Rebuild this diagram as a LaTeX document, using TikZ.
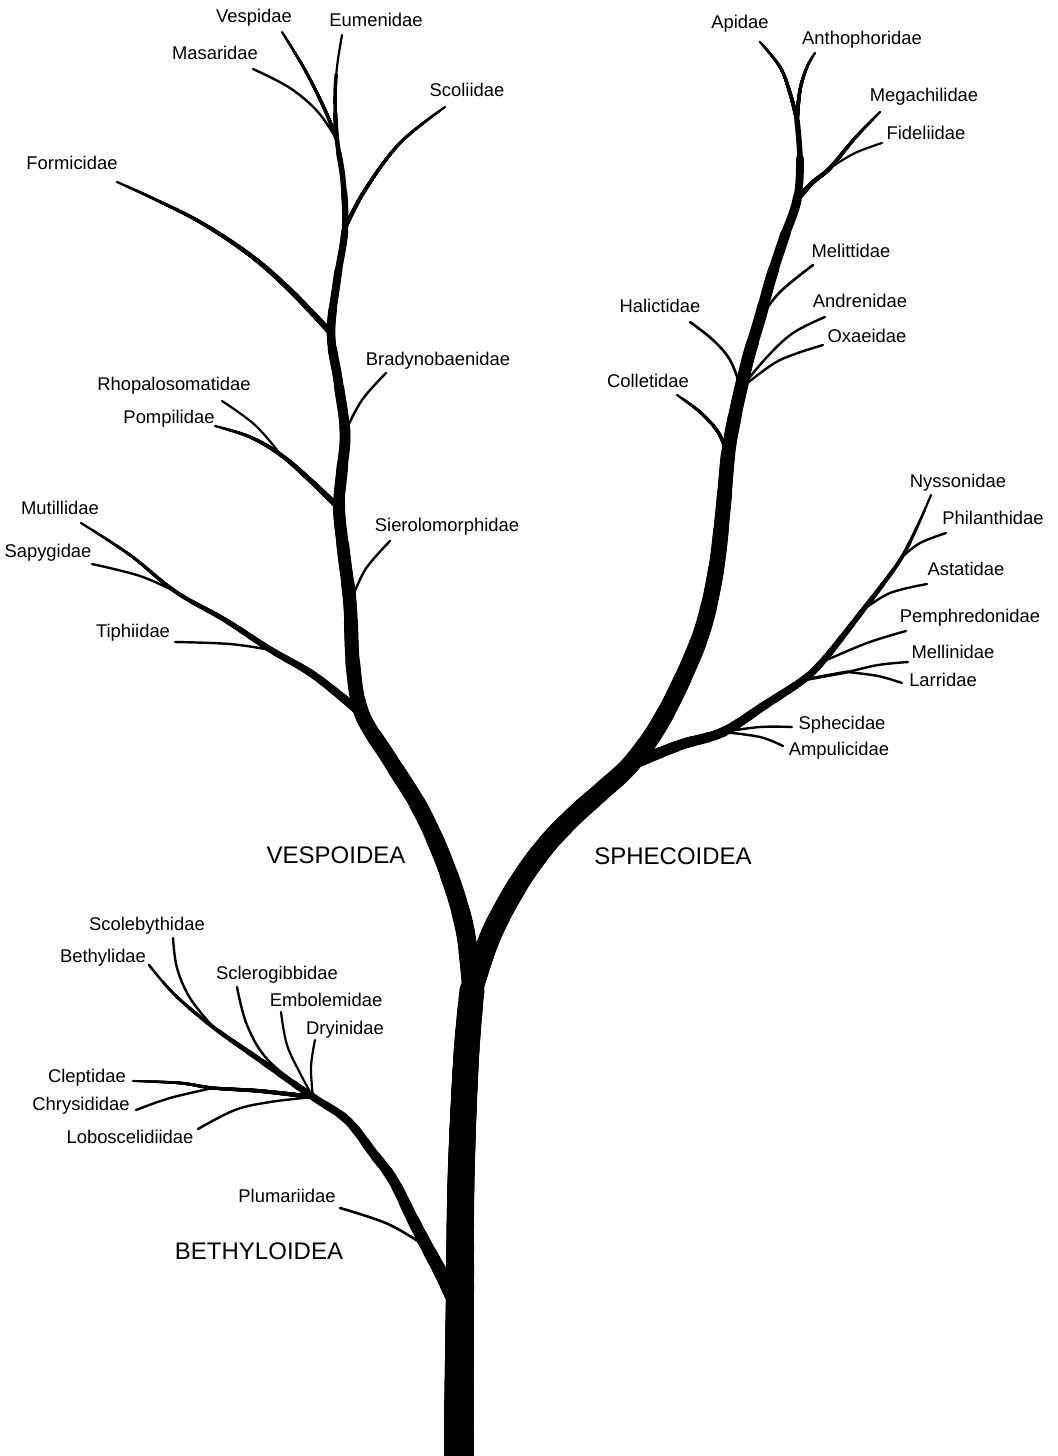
\documentclass[tikz,border=0pt]{standalone}
\usepackage{fontspec}
\setmainfont{Liberation Sans}
% #1 coordinates, #2 arc length (px), #3 base width (px), #4 tip width (px), #5 taper exponent
\newcommand\taper[5]{%
  \pgfmathsetmacro\tipw{0.5*#4}%
  \draw[br,line width=\tipw pt] plot[smooth,tension=0.6] coordinates {#1};
  \foreach \tk in {1,...,24}{%
    \pgfmathsetmacro\ww{0.5*(#4+(#3-#4)*(\tk/25)^#5)}%
    \pgfmathsetmacro\ll{0.5*#2*(1-\tk/25)}%
    \draw[br,line width=\ww pt,dash pattern=on \ll pt off 4000pt] plot[smooth,tension=0.6] coordinates {#1};
  }}
\newcommand\brch[2]{\draw[br,line width=#1] plot[smooth,tension=0.6] coordinates {#2};}
\begin{document}
\begin{tikzpicture}[x=0.5pt,y=-0.5pt,
  br/.style={line cap=round,line join=round},
  lbl/.style={font=\fontsize{9.2pt}{11pt}\selectfont,inner sep=0pt,text height=6.6pt,text depth=0pt},
  grp/.style={font=\fontsize{12pt}{14pt}\selectfont,inner sep=0pt,text height=8.6pt,text depth=0pt}]
\useasboundingbox (0,0) rectangle (1058,1456);
% ---------- junctions ----------
\coordinate (tb) at (459,1480);
\coordinate (t1) at (459,1400);
\coordinate (t2) at (460,1290);
\coordinate (t3) at (461,1180);
\coordinate (t4) at (466,1060);
\coordinate (sp) at (472,990);
% vespoid stem
\coordinate (v1) at (465,930);
\coordinate (v2) at (448,872);
\coordinate (v3) at (422,812);
\coordinate (v4) at (390,760);
\coordinate (T) at (362,714);
\coordinate (v5) at (353,665);
\coordinate (S) at (350,604);
\coordinate (v6) at (344,555);
\coordinate (P) at (339,508);
\coordinate (v7) at (342,470);
\coordinate (B) at (345,432);
\coordinate (v8) at (338,380);
\coordinate (F) at (331,333);
\coordinate (v9) at (337,280);
\coordinate (Sc) at (345,228);
\coordinate (v10) at (343,180);
\coordinate (Vj) at (337,140);
\coordinate (v11) at (335,100);
\coordinate (v12) at (337,67);
\coordinate (PR) at (281,455);
\coordinate (Tj) at (271,650);
\coordinate (MS) at (176,592);
% sphecoid stem
\coordinate (s1) at (485,950);
\coordinate (s2) at (499,918);
\coordinate (s3) at (522,878);
\coordinate (s4) at (548,843);
\coordinate (s5) at (575,815);
\coordinate (s6) at (603,790);
\coordinate (J) at (630,765);
\coordinate (b1) at (657,728);
\coordinate (b2) at (682,680);
\coordinate (b3) at (703,628);
\coordinate (b4) at (716,570);
\coordinate (b5) at (723,510);
\coordinate (C) at (728,455);
\coordinate (b6) at (734,420);
\coordinate (H) at (741,388);
\coordinate (b7) at (749,355);
\coordinate (M) at (760,318);
\coordinate (b8) at (771,278);
\coordinate (b9) at (784,238);
\coordinate (Mg) at (797,200);
\coordinate (b10) at (800,160);
\coordinate (Ap) at (797,120);
\coordinate (MF) at (830,168);
% sphecid branch
\coordinate (w1) at (680,745);
\coordinate (Sp) at (723,732);
\coordinate (w2) at (765,705);
\coordinate (Ml) at (803,680);
\coordinate (ML) at (847,672);
\coordinate (Pe) at (822,662);
\coordinate (w3) at (843,636);
\coordinate (As) at (863,610);
\coordinate (w4) at (883,584);
\coordinate (Ph) at (902,557);
\coordinate (w5) at (918,525);
% bethyloid
\coordinate (Bt) at (455,1302);
\coordinate (e1) at (441,1273);
\coordinate (Pl) at (427,1247);
\coordinate (e2) at (413,1220);
\coordinate (e3) at (393,1180);
\coordinate (e4) at (373,1153);
\coordinate (e5) at (347,1120);
\coordinate (Bj) at (313,1097);
\coordinate (g2) at (213,1027);
\coordinate (k2) at (213,1088);
% ---------- tips ----------
\coordinate (Eu) at (342,35);
\coordinate (Vs) at (282,32);
\coordinate (Ms) at (253,69);
\coordinate (Sco) at (445,107);
\coordinate (Fo) at (117,182);
\coordinate (Br) at (386,373);
\coordinate (Rh) at (222,401);
\coordinate (Po) at (215,426);
\coordinate (Si) at (390,541);
\coordinate (Mu) at (81,523);
\coordinate (Sa) at (92,564);
\coordinate (Ti) at (175,642);
\coordinate (Api) at (760,42);
\coordinate (Ant) at (815,53);
\coordinate (Meg) at (880,112);
\coordinate (Fid) at (882,143);
\coordinate (Mel) at (813,265);
\coordinate (And) at (825,317);
\coordinate (Oxa) at (823,345);
\coordinate (Hal) at (690,322);
\coordinate (Col) at (677,395);
\coordinate (Nys) at (931,495);
\coordinate (Phi) at (946,533);
\coordinate (Ast) at (927,584);
\coordinate (Pem) at (906,631);
\coordinate (Mln) at (908,662);
\coordinate (Lar) at (902,683);
\coordinate (Sph) at (792,727);
\coordinate (Amp) at (783,746);
\coordinate (Bet) at (149,965);
\coordinate (Scb) at (173,938);
\coordinate (Scg) at (237,987);
\coordinate (Emb) at (281,1012);
\coordinate (Dry) at (315,1040);
\coordinate (Cle) at (133,1081);
\coordinate (Chr) at (136,1110);
\coordinate (Lob) at (198,1129);
\coordinate (Plu) at (340,1208);
% ---------- trunk ----------
\taper{(tb) (t1) (t2) (t3) (t4) (sp)}{490}{30}{25}{1}
% ---------- vespoid ----------
\taper{(sp) (v1) (v2) (v3) (v4) (T) (v5) (S) (v6) (P) (v7) (B) (v8) (F) (v9) (Sc) (v10) (Vj) (v11) (v12) (Eu)}{985}{20}{2.2}{0.8}
\taper{(Vj) (325,110) (305,70) (Vs)}{121}{3.5}{2.2}{1}
\brch{1.2pt}{(Vj) (318,112) (290,88) (Ms)}
\taper{(Sc) (365,190) (400,143) (Sco)}{159}{4}{2.3}{1}
\taper{(F) (290,290) (250,255) (200,222) (150,197) (Fo)}{265}{6}{2.3}{1}
\brch{1.2pt}{(B) (362,400) (Br)}
\taper{(P) (310,480) (PR) (250,437) (Po)}{150}{6}{2.4}{1}
\brch{1.1pt}{(PR) (255,425) (Rh)}
\brch{1.2pt}{(S) (365,570) (Si)}
\taper{(T) (315,676) (Tj) (225,620) (MS) (130,555) (Mu)}{340}{9}{2.3}{1.3}
\brch{1.2pt}{(MS) (140,576) (Sa)}
\brch{1.2pt}{(Tj) (230,644) (Ti)}
% ---------- sphecoid ----------
\taper{(sp) (s1) (s2) (s3) (s4) (s5) (s6) (J) (b1) (b2) (b3) (b4) (b5) (C) (b6) (H) (b7) (M) (b8) (b9) (Mg) (b10) (Ap)}{956}{22}{5.5}{0.6}
\taper{(Ap) (790,93) (780,67) (Api)}{88}{4}{2.3}{1}
\taper{(Ap) (800,90) (807,67) (Ant)}{70}{4}{2.3}{1}
\taper{(Mg) (812,183) (MF) (855,138) (Meg)}{121}{5}{2.3}{1}
\brch{1.1pt}{(MF) (855,153) (Fid)}
\brch{1.3pt}{(M) (780,292) (Mel)}
\brch{1.2pt}{(H) (767,357) (793,333) (And)}
\brch{1.2pt}{(H) (773,364) (795,354) (Oxa)}
\brch{1.3pt}{(H) (730,360) (713,340) (Hal)}
\taper{(C) (718,432) (700,412) (Col)}{80}{3.5}{2.3}{1}
% sphecid branch
\taper{(J) (w1) (Sp) (w2) (Ml) (Pe) (w3) (As) (w4) (Ph) (w5) (Nys)}{421}{12}{2.2}{1}
\brch{1.2pt}{(Sp) (760,727) (Sph)}
\brch{1.2pt}{(Sp) (760,737) (Amp)}
\brch{1.6pt}{(Ml) (ML)}
\brch{1.2pt}{(Ml) (ML) (878,665) (Mln)}
\brch{1.2pt}{(ML) (878,676) (Lar)}
\brch{1.2pt}{(Pe) (867,643) (Pem)}
\brch{1.2pt}{(As) (890,593) (Ast)}
\brch{1.2pt}{(Ph) (920,543) (Phi)}
% ---------- bethyloid ----------
\taper{(Bt) (e1) (Pl) (e2) (e3) (e4) (e5) (Bj) (260,1060) (g2) (175,995) (Bet)}{462}{15}{2.5}{1.2}
\brch{1.2pt}{(g2) (190,998) (177,968) (Scb)}
\brch{1.2pt}{(Bj) (268,1060) (247,1025) (Scg)}
\brch{1.1pt}{(Bj) (301,1075) (287,1045) (Emb)}
\brch{1.1pt}{(Bj) (311,1067) (Dry)}
\taper{(Bj) (260,1091) (k2) (180,1083) (Cle)}{181}{4.5}{2.2}{1}
\brch{1.2pt}{(k2) (170,1098) (Chr)}
\brch{1.2pt}{(Bj) (270,1102) (235,1110) (Lob)}
\brch{1.3pt}{(Pl) (388,1224) (Plu)}
% ---------- labels ----------
\node[lbl] (lVes) at (254,16) {Vespidae};
\node[lbl] (lEum) at (376,20) {Eumenidae};
\node[lbl] (lMas) at (215,53) {Masaridae};
\node[lbl] (lSco) at (467,90) {Scoliidae};
\node[lbl] (lFor) at (72,163) {Formicidae};
\node[lbl] (lApi) at (740,22) {Apidae};
\node[lbl] (lAnt) at (862,38) {Anthophoridae};
\node[lbl] (lMeg) at (924,95) {Megachilidae};
\node[lbl] (lFid) at (926,133) {Fideliidae};
\node[lbl] (lMel) at (851,251) {Melittidae};
\node[lbl] (lHal) at (660,306) {Halictidae};
\node[lbl] (lAnd) at (860,301) {Andrenidae};
\node[lbl] (lOxa) at (867,336) {Oxaeidae};
\node[lbl] (lCol) at (648,381) {Colletidae};
\node[lbl] (lBra) at (438,359) {Bradynobaenidae};
\node[lbl] (lRho) at (174,384) {Rhopalosomatidae};
\node[lbl] (lPom) at (169,417) {Pompilidae};
\node[lbl] (lMut) at (60,508) {Mutillidae};
\node[lbl] (lSap) at (48,551) {Sapygidae};
\node[lbl] (lSie) at (447,525) {Sierolomorphidae};
\node[lbl] (lTip) at (133,631) {Tiphiidae};
\node[lbl] (lNys) at (958,481) {Nyssonidae};
\node[lbl] (lPhi) at (993,518) {Philanthidae};
\node[lbl] (lAst) at (966,569) {Astatidae};
\node[lbl] (lPem) at (970,616) {Pemphredonidae};
\node[lbl] (lMln) at (953,652) {Mellinidae};
\node[lbl] (lLar) at (943,680) {Larridae};
\node[lbl] (lSph) at (842,723) {Sphecidae};
\node[lbl] (lAmp) at (839,749) {Ampulicidae};
\node[lbl] (lScb) at (147,924) {Scolebythidae};
\node[lbl] (lBet) at (103,956) {Bethylidae};
\node[lbl] (lScg) at (277,973) {Sclerogibbidae};
\node[lbl] (lEmb) at (326,1000) {Embolemidae};
\node[lbl] (lDry) at (345,1028) {Dryinidae};
\node[lbl] (lCle) at (87,1076) {Cleptidae};
\node[lbl] (lChr) at (81,1104) {Chrysididae};
\node[lbl] (lLob) at (130,1137) {Loboscelidiidae};
\node[lbl] (lPlu) at (287,1196) {Plumariidae};
\node[grp] (gVes) at (336,855) {VESPOIDEA};
\node[grp] (gSph) at (673,856) {SPHECOIDEA};
\node[grp] (gBet) at (259,1251) {BETHYLOIDEA};
\end{tikzpicture}
\end{document}
